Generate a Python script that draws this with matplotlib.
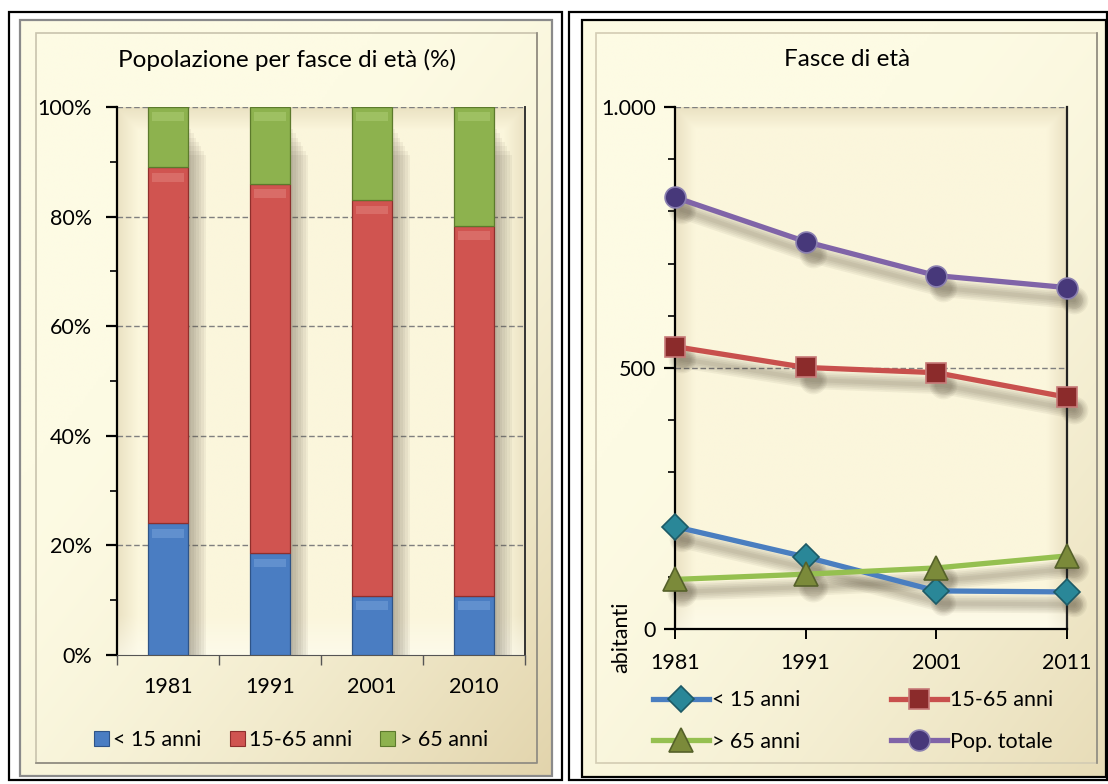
import numpy as np
import matplotlib
matplotlib.use("Agg")
import matplotlib.pyplot as plt
from matplotlib.patches import Rectangle, Patch
from matplotlib.lines import Line2D
import matplotlib.transforms as mtrans
from matplotlib.ticker import MultipleLocator, FixedLocator, NullFormatter, FuncFormatter

plt.rcParams['font.family'] = ['Lato', 'DejaVu Sans']

# ---- data -------------------------------------------------------------
bar_years = ['1981', '1991', '2001', '2010']
pct_under15 = [24.0, 18.6, 10.8, 10.8]
pct_15_65 = [65.0, 67.4, 72.2, 67.5]
pct_over65 = [11.0, 14.0, 17.0, 21.7]

line_years = ['1981', '1991', '2001', '2011']
ab_under15 = [196, 138, 73, 71]
ab_15_65 = [541, 501, 491, 444]
ab_over65 = [95, 105, 117, 140]
ab_totale = [827, 742, 677, 654]

series_labels = ['< 15 anni', '15-65 anni', '> 65 anni', 'Pop. totale']

W, H = 1108, 784
fig = plt.figure(figsize=(W / 100, H / 100), dpi=100)
fig.patch.set_facecolor('white')

# ---- panel frames (pixel coordinates) ---------------------------------
bg = fig.add_axes([0, 0, 1, 1])
bg.set_xlim(0, W)
bg.set_ylim(H, 0)
bg.axis('off')

cream = np.array([253, 251, 228]) / 255
tan = np.array([226, 212, 172]) / 255


def gradient_box(x0, y0, x1, y1, strength):
    nx, ny = 200, 200
    gx, gy = np.meshgrid(np.linspace(0, 1, nx), np.linspace(0, 1, ny))
    t = np.clip((gx * 0.8 + gy * 0.9 - 0.55) / 1.15, 0, 1) ** 1.6 * strength
    img = cream[None, None, :] * (1 - t[..., None]) + tan[None, None, :] * t[..., None]
    bg.imshow(img, extent=(x0, x1, y1, y0), aspect='auto', zorder=1, interpolation='bilinear')


# left panel
bg.add_patch(Rectangle((9, 12), 553, 768, fill=False, ec='black', lw=1.6, zorder=3))
gradient_box(20, 20, 552, 776, 1.0)
bg.add_patch(Rectangle((20, 20), 532, 756, fill=False, ec='#8a8a8a', lw=1.6, zorder=3))
bg.add_patch(Rectangle((36, 33), 501, 730, fill=False, ec='#c9c3ad', lw=1.2, zorder=3))
bg.plot([537, 537, 36], [33, 763, 763], color='#8f8b80', lw=1.2, zorder=3)

# right panel
bg.add_patch(Rectangle((569, 12), 538, 768, fill=False, ec='black', lw=1.6, zorder=3))
gradient_box(582, 20, 1106, 777, 0.8)
bg.add_patch(Rectangle((582, 20), 524, 757, fill=False, ec='black', lw=1.6, zorder=3))
bg.add_patch(Rectangle((596, 33), 501, 730, fill=False, ec='#d3ccb3', lw=1.2, zorder=3))
bg.plot([1097, 1097], [33, 763], color='#8f8b80', lw=1.2, zorder=3)


def wall(ax):
    # soft inner shading of the plot area
    n = 200
    gx, gy = np.meshgrid(np.linspace(0, 1, n), np.linspace(0, 1, n))
    d = np.minimum.reduce([gx / 0.05, (1 - gx) / 0.05, gy / 0.04])
    shade = np.clip(1 - d, 0, 1) * 0.35
    floor = np.clip((gy - 0.93) / 0.07, 0, 1) * 0.5
    base = np.array([251, 246, 220]) / 255
    dark = np.array([205, 190, 150]) / 255
    img = base * (1 - shade[..., None]) + dark * shade[..., None]
    img = img * (1 - floor[..., None]) + np.array([1, 1, 0.97]) * floor[..., None]
    ax.imshow(img, extent=(0, 1, 0, 1), transform=ax.transAxes, aspect='auto',
              zorder=0, interpolation='bilinear')


fs_tick = 15.5
fs_title = 17.5

# ---- left: stacked percentage bars ------------------------------------
ax1 = fig.add_axes([117 / W, 1 - 655 / H, 408 / W, 548 / H])
ax1.set_facecolor('none')
wall(ax1)
xb = np.arange(len(bar_years))
bw = 0.39
c_blue, c_red, c_green = '#4a7dc2', '#d05450', '#8db24e'

# soft bar shadows
for k in range(7):
    off = 0.03 + k * 0.025
    ax1.bar(xb + off, 96 - k * 0.8, bottom=0, width=bw, color='#5a5040', alpha=0.065,
            lw=0, zorder=2)

b0 = np.array(pct_under15)
b1 = b0 + np.array(pct_15_65)
segs = [
    (pct_under15, np.zeros(4), c_blue, '#2f5487', '#8cb4e6'),
    (pct_15_65, b0, c_red, '#8f2f2c', '#ea9a94'),
    (pct_over65, b1, c_green, '#5c7a2c', '#c0dd8a'),
]
for vals, bottom, fc, ec, hi in segs:
    vals = np.array(vals)
    ax1.bar(xb, vals, bottom=bottom, width=bw, color=fc, ec=ec, lw=0.9, zorder=3)
    # faint bevel light just under the top of each segment
    top = bottom + vals
    ax1.bar(xb, 1.6, bottom=top - 2.6, width=bw * 0.78, color=hi, alpha=0.35, lw=0, zorder=4)

ax1.set_xlim(-0.5, len(bar_years) - 0.5)
ax1.set_ylim(0, 100)
ax1.yaxis.set_major_locator(MultipleLocator(20))
ax1.yaxis.set_minor_locator(MultipleLocator(10))
ax1.yaxis.set_major_formatter(FuncFormatter(lambda v, p: f'{v:.0f}%'))
ax1.xaxis.set_major_locator(FixedLocator(np.arange(-0.5, len(bar_years), 1.0)))
ax1.xaxis.set_major_formatter(NullFormatter())
ax1.xaxis.set_minor_locator(FixedLocator(xb))
ax1.set_xticklabels(bar_years, minor=True)
ax1.tick_params(axis='x', which='major', length=7, width=1, color='#555555')
ax1.tick_params(axis='x', which='minor', length=0, labelsize=fs_tick, pad=16)
ax1.tick_params(axis='y', which='major', length=8, width=1.6, labelsize=fs_tick, pad=10)
ax1.tick_params(axis='y', which='minor', length=5, width=1.2)
for y in range(20, 101, 20):
    ax1.axhline(y, color='#7f7f7f', lw=1, ls=(0, (4, 2)), zorder=1)
ax1.spines['top'].set_visible(False)
ax1.spines['left'].set_linewidth(1.6)
ax1.spines['bottom'].set_color('#555555')
ax1.spines['right'].set_color('#333333')
ax1.spines['right'].set_linewidth(1.4)
fig.text(287 / W, 1 - 60 / H, 'Popolazione per fasce di età (%)', ha='center', va='center',
         fontsize=fs_title)

h1 = [Patch(fc=c, ec=e, lw=0.8) for c, e in
      [(c_blue, '#2f5487'), (c_red, '#8f2f2c'), (c_green, '#5c7a2c')]]
fig.legend(h1, series_labels[:3], loc='center', bbox_to_anchor=(291 / W, 1 - 740 / H),
           ncol=3, frameon=False, fontsize=fs_tick, handlelength=0.7, handleheight=0.7,
           handletextpad=0.2, columnspacing=1.3)

# ---- right: population lines ------------------------------------------
ax2 = fig.add_axes([675 / W, 1 - 629 / H, 392 / W, 522 / H])
ax2.set_facecolor('none')
wall(ax2)
xl = np.arange(len(line_years))
styles = [
    (ab_under15, '#4a7ec0', 'D', '#2a8798', '#1d5a66', 13),
    (ab_15_65, '#c8504d', 's', '#8b2b2b', '#c77a78', 15),
    (ab_over65, '#95c050', '^', '#7b8a3a', '#55612a', 17),
    (ab_totale, '#8064a8', 'o', '#47387a', '#8a7fb0', 15),
]
shadow_tr = ax2.transData + mtrans.ScaledTranslation(5 / 72, -9 / 72, fig.dpi_scale_trans)
handles2 = []
for (vals, lc, mk, mfc, mec, ms), lab in zip(styles, series_labels):
    # blurred drop shadow under line and markers
    for k in range(5):
        ax2.plot(xl, vals, color='#3a3020', lw=3 + 2.5 * k, alpha=0.06, marker='o',
                 ms=ms * 0.8 + 2 * k, mew=0, solid_capstyle='round', transform=shadow_tr,
                 zorder=2, clip_on=False)
    ax2.plot(xl, vals, color=lc, lw=3.8, marker=mk, ms=ms, mfc=mfc, mec=mec, mew=1.2,
             zorder=4, clip_on=False)
    handles2.append(Line2D([], [], color=lc, lw=3.8, marker=mk, ms=ms, mfc=mfc, mec=mec, mew=1.2))

ax2.set_xlim(0, len(line_years) - 1)
ax2.set_ylim(0, 1000)
ax2.set_xticks(xl)
ax2.set_xticklabels(line_years)
ax2.yaxis.set_major_locator(FixedLocator([0, 500, 1000]))
ax2.yaxis.set_minor_locator(MultipleLocator(100))
ax2.yaxis.set_major_formatter(FuncFormatter(lambda v, p: f'{int(v):,}'.replace(',', '.')))
ax2.tick_params(axis='x', length=7, width=1.4, labelsize=fs_tick, pad=10)
ax2.tick_params(axis='y', which='major', length=8, width=1.6, labelsize=fs_tick, pad=6)
ax2.tick_params(axis='y', which='minor', length=5, width=1.2)
for y in (500, 1000):
    ax2.axhline(y, color='#7f7f7f', lw=1, ls=(0, (4, 2)), zorder=1)
ax2.spines['top'].set_visible(False)
for s in ('left', 'bottom', 'right'):
    ax2.spines[s].set_linewidth(1.6)
ax2.spines['right'].set_color('#222222')
fig.text(847 / W, 1 - 60 / H, 'Fasce di età', ha='center', va='center', fontsize=fs_title)
fig.text(621 / W, 1 - 637 / H, 'abitanti', ha='center', va='center', rotation=90,
         fontsize=fs_tick)

# legend filled row by row: (<15, 15-65) then (>65, Pop. totale)
order = [0, 2, 1, 3]
fig.legend([handles2[i] for i in order], [series_labels[i] for i in order], loc='center',
           bbox_to_anchor=(853 / W, 1 - 721 / H), ncol=2, frameon=False, fontsize=fs_tick,
           handlelength=2.6, handletextpad=0.15, columnspacing=4.2, labelspacing=1.0)

fig.savefig('out.png', dpi=100)
